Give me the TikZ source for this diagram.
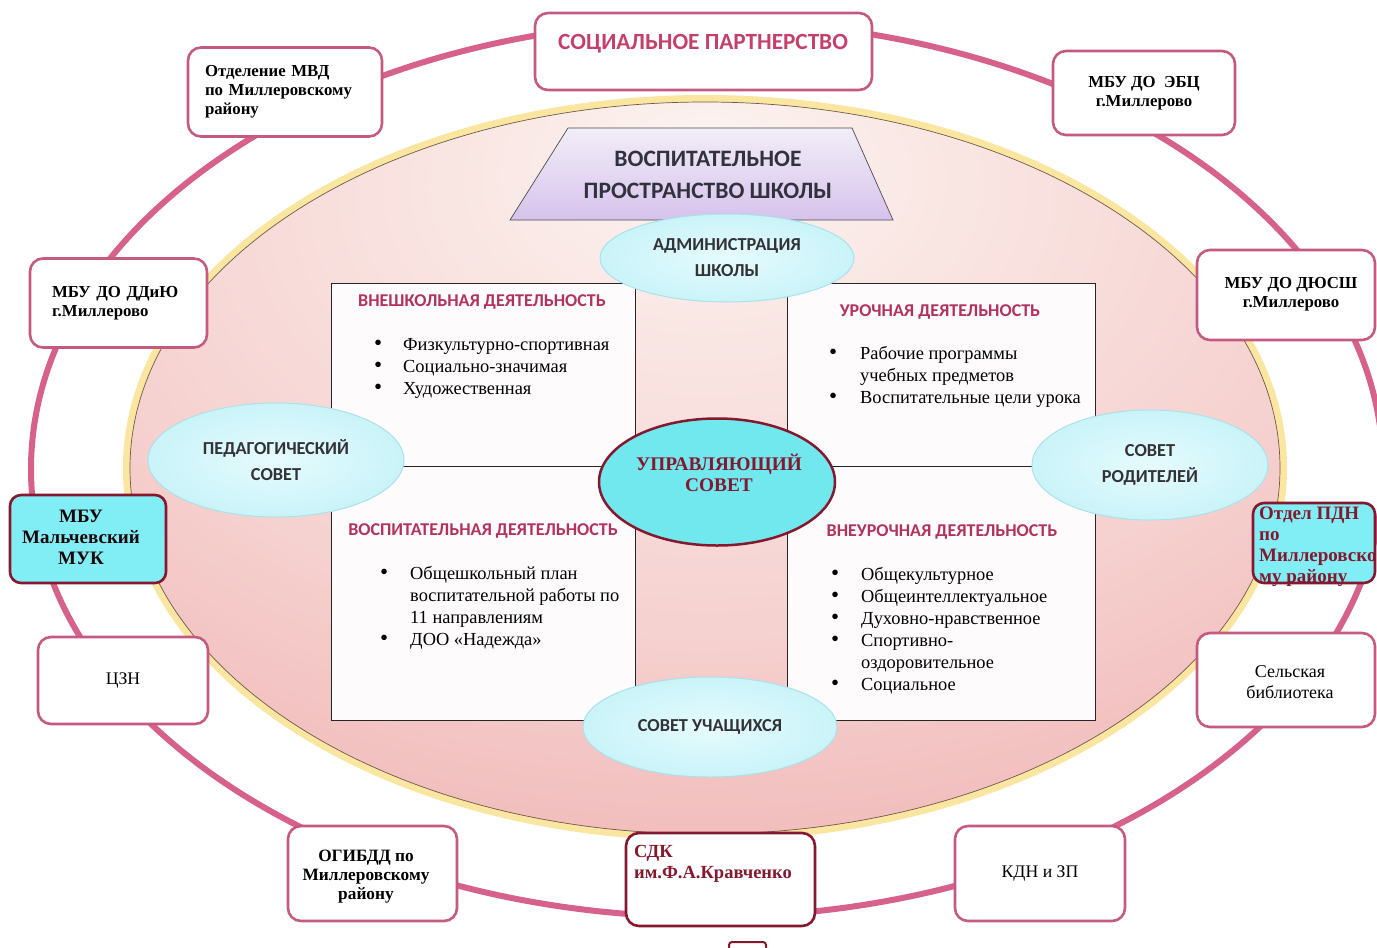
\documentclass[tikz,border=0pt]{standalone}
\usepackage{fontspec}
\setmainfont{Liberation Serif}
\newfontfamily\hsans{Carlito}
\usetikzlibrary{shapes.geometric}
\definecolor{ringpink}{RGB}{214,98,140}
\definecolor{boxpink}{RGB}{196,90,128}
\definecolor{dred}{RGB}{132,24,46}
\definecolor{hdr}{RGB}{178,50,94}
\definecolor{hdrb}{RGB}{196,64,106}
\definecolor{cyanbox}{RGB}{128,238,244}
\definecolor{ucyan}{RGB}{112,232,238}
\definecolor{ellA}{RGB}{252,244,241}
\definecolor{ellB}{RGB}{245,208,206}
\definecolor{ellC}{RGB}{238,170,172}
\definecolor{cyA}{RGB}{230,251,253}
\definecolor{cyB}{RGB}{196,242,248}
\definecolor{cyC}{RGB}{136,222,236}
\definecolor{cyedge}{RGB}{170,225,235}
\definecolor{glowy}{RGB}{250,230,160}
\definecolor{edgec}{RGB}{110,90,70}
\definecolor{qfill}{RGB}{253,251,251}
\definecolor{elgray}{RGB}{50,50,55}
\definecolor{trtop}{RGB}{242,238,248}
\definecolor{trbot}{RGB}{214,194,236}
\definecolor{trtxt}{RGB}{50,50,62}
\pgfdeclareradialshading{bigell}{\pgfpoint{0bp}{22bp}}{color(0bp)=(ellA); color(28bp)=(ellB); color(50bp)=(ellC); color(100bp)=(ellC)}
\pgfdeclareradialshading{cyell}{\pgfpoint{0bp}{0bp}}{color(0bp)=(cyA); color(30bp)=(cyB); color(50bp)=(cyC); color(100bp)=(cyC)}
\newcommand\blt{\scalebox{1.25}{\textbullet}}
\tikzset{
  obox/.style={draw=boxpink, line width=2.6pt, rounded corners=13pt, fill=white, inner sep=0pt},
  cbox/.style={draw=dred, line width=2.6pt, rounded corners=11pt, fill=cyanbox, inner sep=0pt},
  qbox/.style={draw=black!85, line width=0.9pt, fill=qfill, anchor=north west, inner sep=0pt},
  hd/.style={font=\hsans\bfseries\fontsize{18}{20}\selectfont, text=hdr, inner sep=0pt},
  lst/.style={font=\fontsize{18.4}{22}\selectfont, anchor=base west, inner sep=0pt},
  elt/.style={font=\hsans\bfseries\fontsize{18.3}{26}\selectfont, text=elgray, align=center, inner sep=0pt},
  cyel/.style={ellipse, shading=cyell, draw=cyedge, line width=1pt, inner sep=0pt},
  btxt/.style={font=\bfseries\fontsize{16.8}{19}\selectfont, inner sep=0pt},
  rtxt/.style={font=\fontsize{17.7}{21}\selectfont, inner sep=0pt, align=center},
}
\begin{document}
\begin{tikzpicture}[x=1pt,y=-1pt]
\useasboundingbox (0,0) rectangle (1377,948);
\fill[white] (0,0) rectangle (1377,948);
% outer ring
\draw[ringpink, line width=6pt] (707,469) ellipse [x radius=676, y radius=448];
% inner space
\draw[glowy, line width=14pt] (705,468) ellipse [x radius=575, y radius=366];
\path[shading=bigell] (705,468) ellipse [x radius=575, y radius=366];
\draw[edgec, line width=0.7pt] (705,468) ellipse [x radius=575, y radius=366];
% trapezoid
\shade[top color=trtop, bottom color=trbot, draw=black!70, line width=0.7pt]
  (568,128) -- (852,128) -- (893,220) -- (510,220) -- cycle;
\node[font=\hsans\bfseries\fontsize{23.5}{32}\selectfont, text=trtxt, align=center] (vps) at (708,175) {ВОСПИТАТЕЛЬНОЕ\\ПРОСТРАНСТВО ШКОЛЫ};
% quadrant boxes
\node[qbox, minimum width=304, minimum height=183] (q1) at (331,283) {};
\node[qbox, minimum width=308, minimum height=183] (q2) at (787,283) {};
\node[qbox, minimum width=304, minimum height=254] (q3) at (331,466) {};
\node[qbox, minimum width=308, minimum height=254] (q4) at (787,466) {};
\node[hd] (h1) at (482,302) {ВНЕШКОЛЬНАЯ ДЕЯТЕЛЬНОСТЬ};
\node[hd] (h2) at (940,312) {УРОЧНАЯ ДЕЯТЕЛЬНОСТЬ};
\node[hd] (h3) at (483,531) {ВОСПИТАТЕЛЬНАЯ ДЕЯТЕЛЬНОСТЬ};
\node[hd] (h4) at (942,532) {ВНЕУРОЧНАЯ ДЕЯТЕЛЬНОСТЬ};
\node[lst] (l1) at (374,350) {\begin{tabular}[t]{@{}p{29pt}@{}l@{}}\blt & Физкультурно-спортивная\\ \blt & Социально-значимая\\ \blt & Художественная\end{tabular}};
\node[lst] (l2) at (829,359) {\begin{tabular}[t]{@{}p{31pt}@{}l@{}}\blt & Рабочие программы\\ & учебных предметов\\ \blt & Воспитательные цели урока\end{tabular}};
\node[lst] (l3) at (380,579) {\begin{tabular}[t]{@{}p{30pt}@{}l@{}}\blt & Общешкольный план\\ & воспитательной работы по\\ & 11 направлениям\\ \blt & ДОО «Надежда»\end{tabular}};
\node[lst] (l4) at (831,580) {\begin{tabular}[t]{@{}p{30pt}@{}l@{}}\blt & Общекультурное\\ \blt & Общеинтеллектуальное\\ \blt & Духовно-нравственное\\ \blt & Спортивно-\\ & оздоровительное\\ \blt & Социальное\end{tabular}};
% councils
\node[cyel, elt, minimum width=254, minimum height=88] (adm) at (727,258) {АДМИНИСТРАЦИЯ\\ШКОЛЫ};
\node[cyel, elt, minimum width=256, minimum height=114] (ped) at (276,460) {ПЕДАГОГИЧЕСКИЙ\\СОВЕТ};
\node[cyel, elt, minimum width=236, minimum height=110] (rod) at (1150,465) {СОВЕТ\\РОДИТЕЛЕЙ};
\node[cyel, elt, minimum width=254, minimum height=100] (uch) at (710,727) {СОВЕТ УЧАЩИХСЯ};
\node[ellipse, fill=ucyan, draw=dred, line width=2.5pt, minimum width=236, minimum height=127] (us) at (717,482) {};
\node[font=\bfseries\fontsize{19.3}{21}\selectfont, text=dred, align=center, inner sep=0pt] (ust) at (719,473) {УПРАВЛЯЮЩИЙ\\СОВЕТ};
% partner boxes
\node[obox, minimum width=337, minimum height=77] (sp) at (703.5,51.5) {};
\node[font=\hsans\bfseries\fontsize{23.2}{26}\selectfont, text=hdrb, inner sep=0pt] (spt) at (703,44) {СОЦИАЛЬНОЕ ПАРТНЕРСТВО};
\node[obox, btxt, minimum width=194, minimum height=89, text width=160, align=left] (mvd) at (285,92) {Отделение МВД\\по Миллеровскому\\району};
\node[obox, btxt, minimum width=182, minimum height=84, align=center] (ebc) at (1144,93) {МБУ ДО \ ЭБЦ\\г.Миллерово};
\node[obox, btxt, minimum width=177, minimum height=89, text width=133, align=left] (ddu) at (118.5,303) {МБУ ДО ДДиЮ\\г.Миллерово};
\node[obox, minimum width=178, minimum height=90] (dus) at (1286,295) {};
\node[btxt, align=center] (dust) at (1291,294) {МБУ ДО ДЮСШ\\г.Миллерово};
\node[cbox, minimum width=156, minimum height=88] (muk) at (88,539) {};
\node[font=\bfseries\fontsize{19}{21}\selectfont, text=black!80!dred, align=center, inner sep=0pt] (mukt) at (81,537) {МБУ\\Мальчевский\\МУК};
\node[cbox, minimum width=122, minimum height=80] (pdn) at (1314,543) {};
\node[font=\bfseries\fontsize{19}{21}\selectfont, text=dred, align=left, anchor=north west, inner sep=0pt] (pdnt) at (1259,507) {Отдел ПДН\\по\\Миллеровско\\му району};
\node[obox, rtxt, minimum width=170, minimum height=87] (czn) at (123,680.5) {ЦЗН};
\node[obox, minimum width=178, minimum height=94] (lib) at (1286,680) {};
\node[font=\fontsize{18}{21}\selectfont, align=center, inner sep=0pt] (libt) at (1290,682) {Сельская\\библиотека};
\node[obox, minimum width=169, minimum height=95] (gib) at (372.5,873.5) {};
\node[btxt, font=\bfseries\fontsize{17.3}{19}\selectfont, align=center] (gibt) at (366,877) {ОГИБДД по\\Миллеровскому\\району};
\node[obox, draw=dred, minimum width=189, minimum height=93] (sdk) at (720.5,879.5) {};
\node[font=\bfseries\fontsize{18.5}{21}\selectfont, text=dred, align=left, anchor=north west, inner sep=0pt] (sdkt) at (634,845) {СДК\\им.Ф.А.Кравченко};
\node[obox, rtxt, minimum width=170, minimum height=95] (kdn) at (1040,873.5) {КДН и ЗП};
\node[draw=dred, line width=2pt, rounded corners=3pt, fill=white, minimum width=37, minimum height=20, anchor=north west, inner sep=0pt] (mk) at (728,941) {};
\end{tikzpicture}
\end{document}
